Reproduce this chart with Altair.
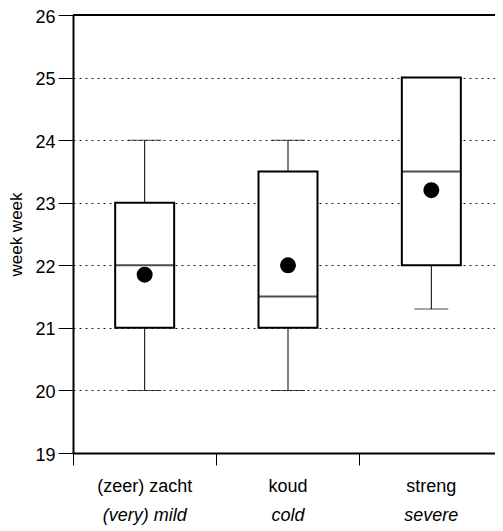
import altair as alt
import pandas as pd

categories = ["(zeer) zacht", "koud", "streng"]
english = ["(very) mild", "cold", "severe"]
whisker_low = [20.0, 20.0, 21.3]
q1 = [21.0, 21.0, 22.0]
median = [22.0, 21.5, 23.5]
q3 = [23.0, 23.5, 25.0]
whisker_high = [24.0, 24.0, 25.0]
means = [21.85, 22.0, 23.2]
y_ticks = [19, 20, 21, 22, 23, 24, 25, 26]

df = pd.DataFrame({
    "cat": categories,
    "eng": english,
    "low": whisker_low,
    "q1": q1,
    "med": median,
    "q3": q3,
    "high": whisker_high,
    "mean": means,
})

FONT = "Liberation Sans"
W, H = 430, 438

x_axis = alt.Axis(title=None, labels=False, bandPosition=0, ticks=True, tickSize=12,
                  tickColor="black", tickWidth=1, domainColor="black", domainWidth=2,
                  grid=False)
x_enc = alt.X("cat:N", sort=categories,
              scale=alt.Scale(paddingInner=0, paddingOuter=0), axis=x_axis)

y_scale = alt.Scale(domain=[19, 26], nice=False, zero=False)
y_axis = alt.Axis(title="week week", values=y_ticks, format="d", tickSize=15,
                  tickColor="black", tickWidth=1, domainColor="black", domainWidth=2,
                  labelFont=FONT, labelFontSize=18, labelColor="black", labelPadding=3,
                  labelOffset=2,
                  titleFont=FONT, titleFontSize=17, titleFontWeight="normal",
                  titleColor="black", titleX=-48,
                  grid=True, gridDash=[2, 4], gridColor="#222222", gridWidth=1)


def Y(field):
    return alt.Y(field, type="quantitative", scale=y_scale, axis=y_axis, title="week week")


base = alt.Chart(df)

whisk = base.mark_rule(color="black", strokeWidth=1).encode(
    x=x_enc, y=Y("low"), y2="high")
cap_low = base.mark_tick(color="black", size=34, thickness=1).encode(x=x_enc, y=Y("low"))
cap_high = base.mark_tick(color="black", size=34, thickness=1).encode(x=x_enc, y=Y("high"))
box = base.mark_bar(fill="white", stroke="black", strokeWidth=2, size=59).encode(
    x=x_enc, y=Y("q1"), y2="q3")
med = base.mark_tick(color="black", size=59, thickness=2).encode(x=x_enc, y=Y("med"))
mean_pt = base.mark_circle(color="black", opacity=1, size=254).encode(x=x_enc, y=Y("mean"))

top_rule = base.mark_rule(color="black", strokeWidth=2).encode(y=alt.datum(26))

lab1 = base.mark_text(font=FONT, fontSize=18, color="black", baseline="middle").encode(
    x=x_enc, y=alt.value(H + 34), text="cat:N")
lab2 = base.mark_text(font=FONT, fontSize=18, fontStyle="italic", color="black",
                      baseline="middle").encode(
    x=x_enc, y=alt.value(H + 63), text="eng:N")

chart = alt.layer(whisk, cap_low, cap_high, box, med, mean_pt, top_rule, lab1, lab2).properties(
    width=W, height=H,
    autosize=alt.AutoSizeParams(type="none"),
    padding={"left": 65, "top": 7, "right": -8, "bottom": 72},
    background="white",
).configure_view(stroke=None)

chart.save("out.html", embed_options={"renderer": "svg", "actions": False})
